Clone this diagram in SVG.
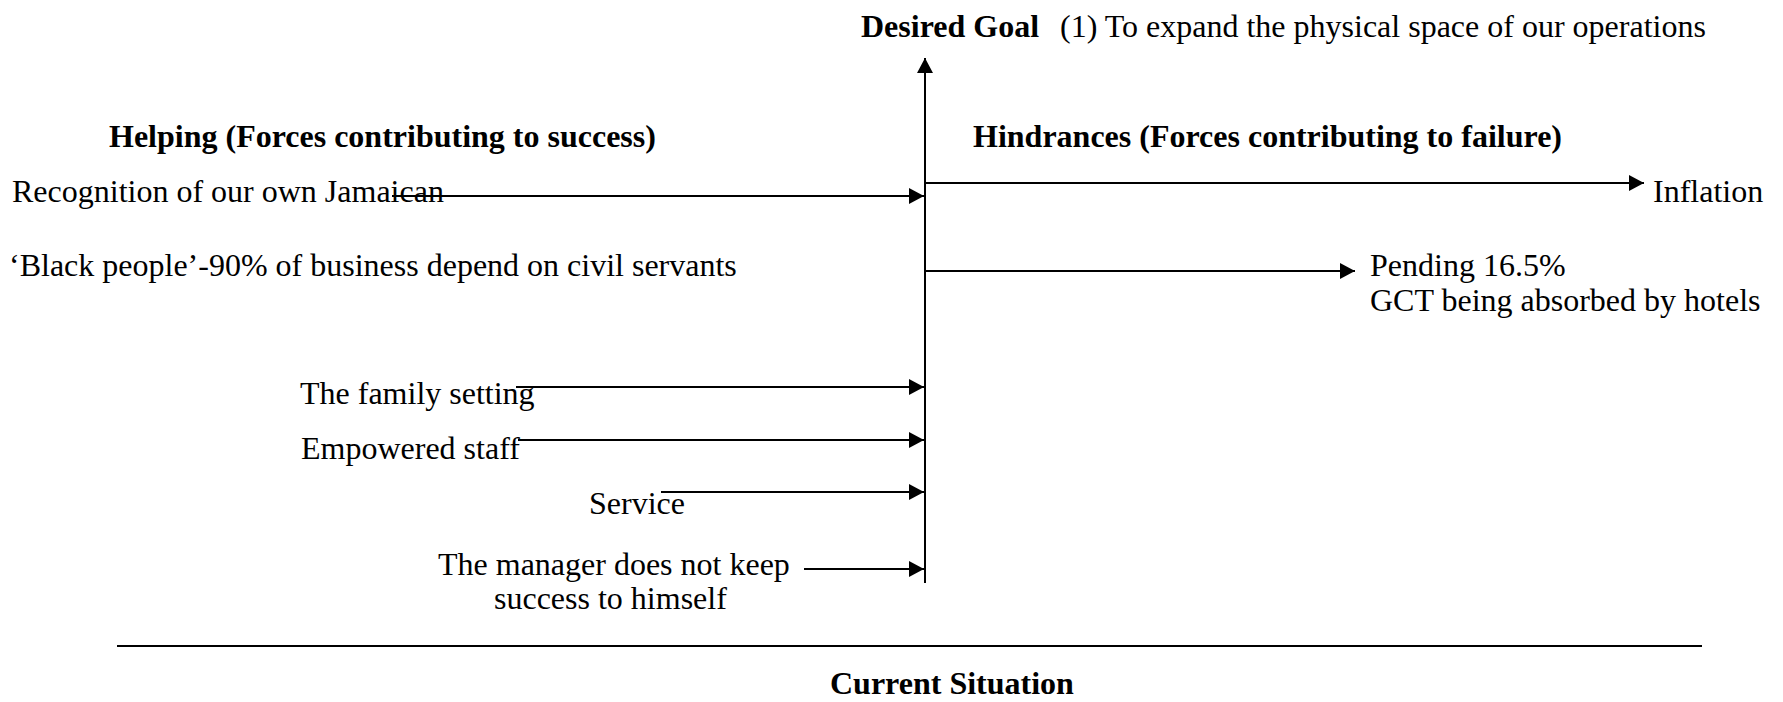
<svg xmlns="http://www.w3.org/2000/svg" width="1783" height="702" viewBox="0 0 1783 702">
<style>
text{font-family:"Liberation Serif","Times New Roman",serif;font-size:32px;fill:#000}
.b{font-weight:bold}
.ln{stroke:#000;stroke-width:2;fill:none}
</style>
<defs>
<marker id="ah" markerWidth="15" markerHeight="16" refX="15" refY="8" orient="auto" markerUnits="userSpaceOnUse">
<path d="M0,0 L15,8 L0,16 z" fill="#000"/>
</marker>
</defs>
<rect width="1783" height="702" fill="#fff"/>
<g id="goal"><text x="861" y="37"><tspan class="b">Desired Goal</tspan><tspan x="1060">(1) To expand the physical space of our operations</tspan></text></g>
<g id="helping-title"><text class="b" x="109" y="147">Helping (Forces contributing to success)</text></g>
<g id="hindrances-title"><text class="b" x="973" y="147">Hindrances (Forces contributing to failure)</text></g>
<g id="recognition"><text x="12" y="202">Recognition of our own Jamaican</text></g>
<g id="black-people"><text x="9" y="276">‘Black people’-90% of business depend on civil servants</text></g>
<g id="inflation"><text x="1653" y="202">Inflation</text></g>
<g id="pending"><text x="1370" y="276">Pending 16.5%</text><text x="1370" y="311">GCT being absorbed by hotels</text></g>
<g id="family"><text x="300" y="404">The family setting</text></g>
<g id="empowered"><text x="301" y="459">Empowered staff</text></g>
<g id="service"><text x="589" y="514">Service</text></g>
<g id="manager"><text x="438" y="575">The manager does not keep</text><text x="494" y="609">success to himself</text></g>
<g id="current"><text class="b" x="830" y="694">Current Situation</text></g>
<g id="connectors">
<line class="ln" x1="925" y1="583" x2="925" y2="58" marker-end="url(#ah)"/>
<line class="ln" x1="392" y1="196" x2="924" y2="196" marker-end="url(#ah)"/>
<line class="ln" x1="516" y1="387" x2="924" y2="387" marker-end="url(#ah)"/>
<line class="ln" x1="518" y1="440" x2="924" y2="440" marker-end="url(#ah)"/>
<line class="ln" x1="661" y1="492" x2="924" y2="492" marker-end="url(#ah)"/>
<line class="ln" x1="804" y1="569" x2="924" y2="569" marker-end="url(#ah)"/>
<line class="ln" x1="925" y1="183" x2="1644" y2="183" marker-end="url(#ah)"/>
<line class="ln" x1="925" y1="271" x2="1355" y2="271" marker-end="url(#ah)"/>
<line class="ln" x1="117" y1="646" x2="1702" y2="646"/>
</g>
</svg>
